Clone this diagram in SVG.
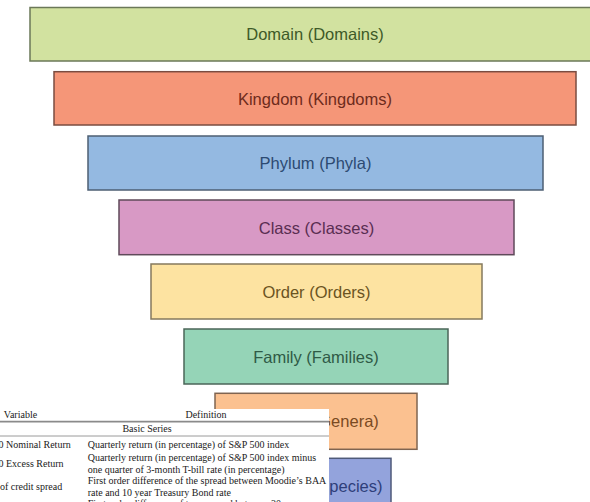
<svg xmlns="http://www.w3.org/2000/svg" width="590" height="502" viewBox="0 0 590 502">
<style>
.box{stroke-width:1.5}
.lbl{font-family:"Liberation Sans",Arial,sans-serif;font-size:16.5px;text-anchor:middle}
.tb{font-family:"Liberation Serif","Times New Roman",serif;font-size:10px;fill:#1a1a1a}
.c{text-anchor:middle}
</style>
<rect width="590" height="502" fill="#ffffff"/>
<g id="domain"><rect class="box" x="30" y="7.5" width="575" height="53.5" fill="#d2e2a0" stroke="#6b7858"/><text class="lbl" x="315" y="40" fill="#3e5a28">Domain (Domains)</text></g>
<g id="kingdom"><rect class="box" x="54" y="71.7" width="522" height="53.3" fill="#f59678" stroke="#7a4c40"/><text class="lbl" x="315" y="104.5" fill="#6e2b1c">Kingdom (Kingdoms)</text></g>
<g id="phylum"><rect class="box" x="88" y="136" width="455" height="54" fill="#94b9e1" stroke="#4d5f73"/><text class="lbl" x="315.5" y="169" fill="#2c4a72">Phylum (Phyla)</text></g>
<g id="class"><rect class="box" x="119" y="200" width="395" height="54.7" fill="#d899c5" stroke="#5f4a5a"/><text class="lbl" x="316.5" y="233.5" fill="#5a2e52">Class (Classes)</text></g>
<g id="order"><rect class="box" x="151" y="264" width="331" height="55" fill="#fde3a1" stroke="#857a5e"/><text class="lbl" x="316.5" y="297.5" fill="#6b5422">Order (Orders)</text></g>
<g id="family"><rect class="box" x="184" y="329" width="264" height="55" fill="#95d4b7" stroke="#4b6558"/><text class="lbl" x="316" y="362.5" fill="#2f5a46">Family (Families)</text></g>
<g id="genera"><rect class="box" x="215" y="393.3" width="202" height="56" fill="#fbc190" stroke="#7f6450"/><text class="lbl" x="316" y="427" fill="#7a4a22">Genera (Genera)</text></g>
<g id="species"><rect class="box" x="243" y="458.3" width="148" height="55" fill="#93a3dc" stroke="#4f5a7a"/><text class="lbl" x="316" y="491.5" fill="#2e3e7a">Species (Species)</text></g>
<g id="connectors"></g>
<g id="table">
<rect x="0" y="409" width="329" height="93" fill="#ffffff"/>
<text class="tb" x="3.8" y="418">Variable</text>
<text class="tb c" x="206" y="418">Definition</text>
<line x1="0" y1="421.7" x2="329" y2="421.7" stroke="#8a8a8a" stroke-width="1.8"/>
<text class="tb c" x="147" y="432">Basic Series</text>
<line x1="0" y1="436" x2="329" y2="436" stroke="#9a9a9a" stroke-width="1"/>
<text class="tb" x="-1.5" y="447.5">0 Nominal Return</text>
<text class="tb" x="87.7" y="447.5">Quarterly return (in percentage) of S&amp;P 500 index</text>
<text class="tb" x="-1.5" y="467">0 Excess Return</text>
<text class="tb" x="87.7" y="461">Quarterly return (in percentage) of S&amp;P 500 index minus</text>
<text class="tb" x="87.7" y="473">one quarter of 3-month T-bill rate (in percentage)</text>
<text class="tb" x="0" y="490">of credit spread</text>
<text class="tb" x="87.7" y="484">First order difference of the spread between Moodie’s BAA</text>
<text class="tb" x="87.7" y="496">rate and 10 year Treasury Bond rate</text>
<text class="tb" x="87.7" y="507">First order difference of term spread between 30-year</text>
</g>
</svg>
